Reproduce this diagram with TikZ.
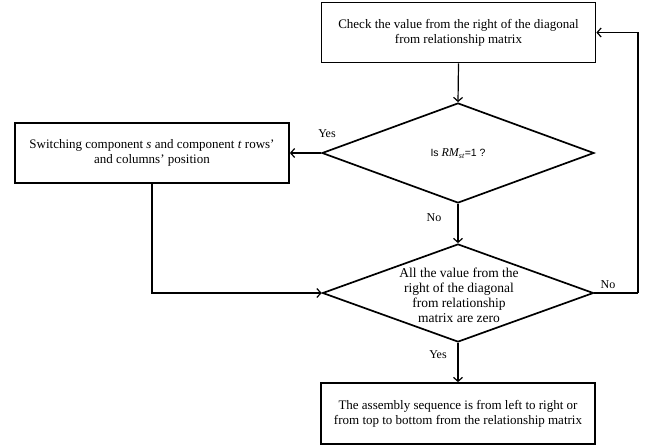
\documentclass[tikz,border=0pt]{standalone}
\usepackage{fontspec}
\setmainfont{Liberation Serif}
\setsansfont{Liberation Sans}
\usetikzlibrary{shapes.geometric,arrows.meta}
\begin{document}
\begin{tikzpicture}[x=1pt,y=1pt,
  box/.style={draw,line width=1.7pt,minimum width=274pt,minimum height=60pt,align=center,font=\fontsize{13}{15}\selectfont,inner sep=0pt},
  dia/.style={draw,diamond,line width=1.7pt,inner sep=0pt},
  conn/.style={line width=1.2pt,-{Straight Barb[length=4pt,width=9pt,line width=1.2pt]}},
  plain/.style={line width=1.2pt},
  lab/.style={font=\fontsize{12}{14}\selectfont,inner sep=1pt}]
\useasboundingbox (0,0) rectangle (647,-445);
\node[box] (top) at (458.5,-32.5) {Check the value from the right of the diagonal\\from relationship matrix};
\node[dia,minimum width=272pt,minimum height=100pt] (d1) at (458,-153) {};
\node[font=\fontsize{10.5}{13}\selectfont] (d1t) at (458,-154) {\sffamily Is {\rmfamily\itshape\fontsize{12}{13}\selectfont RM\textsubscript{st}}=1 ?};
\node[box] (left) at (152,-153) {Switching component \textit{s} and component \textit{t} rows’\\and columns’ position};
\node[dia,minimum width=271pt,minimum height=98pt] (d2) at (458,-293) {};
\node[align=center,font=\fontsize{13.5}{15}\selectfont] (d2t) at (459,-295) {All the value from the\\right of the diagonal\\from relationship\\matrix are zero};
\node[box,minimum height=61pt] (bot) at (458,-413.5) {The assembly sequence is from left to right or\\from top to bottom from the relationship matrix};
\coordinate (rc) at (638,-293);
\draw[conn] (top.south) -- (d1.north);
\draw[conn] (d1.west) -- (left.east);
\node[lab] (yes1) at (327,-134) {Yes};
\draw[conn] (d1.south) -- (d2.north);
\node[lab] (no1) at (434,-218) {No};
\draw[conn] (left.south) |- (d2.west);
\draw[plain] (d2.east) -- (rc);
\draw[conn] (rc) |- (top.east);
\node[lab] (no2) at (608,-285) {No};
\draw[conn] (d2.south) -- (bot.north);
\node[lab] (yes2) at (438,-355) {Yes};
\end{tikzpicture}
\end{document}
